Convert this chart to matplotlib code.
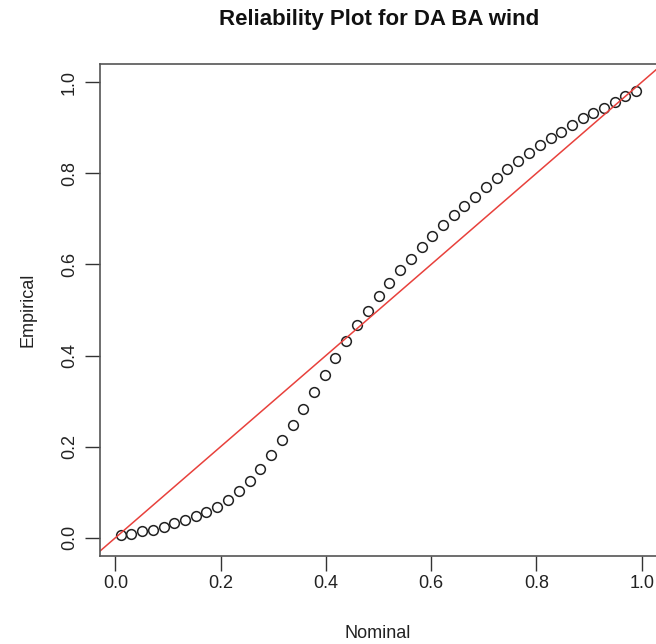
import matplotlib
matplotlib.use("Agg")
import matplotlib.pyplot as plt

# nominal coverage levels (x) and empirical coverage (y)
nominal = [0.010, 0.030, 0.051, 0.071, 0.092, 0.112, 0.133, 0.153, 0.173, 0.194,
           0.214, 0.235, 0.255, 0.275, 0.296, 0.316, 0.337, 0.357, 0.378, 0.398,
           0.418, 0.439, 0.459, 0.480, 0.500, 0.520, 0.541, 0.561, 0.582, 0.602,
           0.622, 0.643, 0.663, 0.684, 0.704, 0.725, 0.745, 0.765, 0.786, 0.806,
           0.827, 0.847, 0.867, 0.888, 0.908, 0.929, 0.949, 0.969, 0.990]
empirical = [0.006, 0.009, 0.014, 0.018, 0.023, 0.032, 0.038, 0.047, 0.056, 0.067,
             0.084, 0.103, 0.124, 0.152, 0.182, 0.215, 0.248, 0.283, 0.320, 0.358,
             0.395, 0.431, 0.466, 0.498, 0.530, 0.560, 0.587, 0.611, 0.638, 0.662,
             0.686, 0.708, 0.729, 0.749, 0.770, 0.790, 0.809, 0.826, 0.844, 0.862,
             0.878, 0.890, 0.907, 0.921, 0.933, 0.944, 0.957, 0.970, 0.981]
ticks = [0.0, 0.2, 0.4, 0.6, 0.8, 1.0]
tick_labels = ["0.0", "0.2", "0.4", "0.6", "0.8", "1.0"]

plt.rcParams["font.family"] = ["Liberation Sans", "DejaVu Sans"]

W, H = 656, 644
fig = plt.figure(figsize=(W / 100, H / 100), dpi=100)
ax = fig.add_axes([100 / W, (H - 556) / H, 557 / W, (556 - 64) / H])

# R-style axis limits: 4% padding
xr = max(nominal) - min(nominal)
ax.set_xlim(min(nominal) - 0.04 * xr, max(nominal) + 0.04 * xr)
ax.set_ylim(-0.04, 1.04)

ax.plot(nominal, empirical, linestyle="none", marker="o", markersize=7,
        markerfacecolor="none", markeredgecolor="#222222", markeredgewidth=1.1)
ax.axline((0, 0), slope=1, color="#e8413c", linewidth=1.1)

ax.set_xticks(ticks)
ax.set_xticklabels(tick_labels)
ax.set_yticks(ticks)
ax.set_yticklabels(tick_labels, rotation=90, va="center")
ax.tick_params(direction="out", length=11, width=1, colors="#333333",
               labelsize=13, labelcolor="#222222")
ax.tick_params(axis="x", pad=3)
ax.tick_params(axis="y", pad=5)
for s in ax.spines.values():
    s.set_color("#555555")
    s.set_linewidth(1.2)

fig.text(378 / W, 1 - 633 / H, "Nominal", ha="center", va="center", fontsize=13, color="#222222")
fig.text(28 / W, 1 - 310 / H, "Empirical", ha="center", va="center", rotation=90,
         fontsize=13, color="#222222")
fig.text(379 / W, 1 - 20 / H, "Reliability Plot for DA BA wind", ha="center", va="center",
         fontsize=16, fontweight="bold", color="#111111")

fig.savefig("out.png", dpi=100)
